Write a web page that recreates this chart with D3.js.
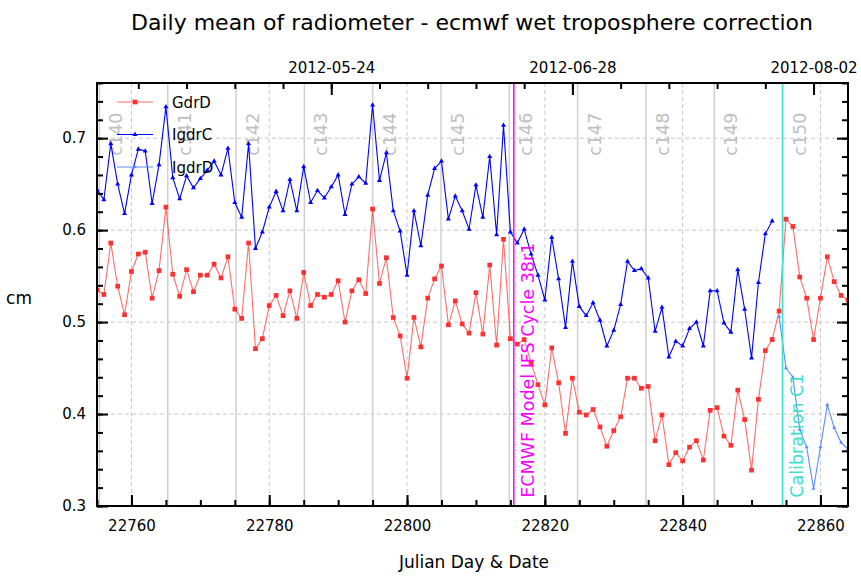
<!DOCTYPE html>
<html>
<head>
<meta charset="utf-8">
<script src="https://cdn.jsdelivr.net/npm/d3@7"></script>
<style>
  body { margin: 0; background: #fff; }
  text { font-family: "DejaVu Sans", sans-serif; }
</style>
</head>
<body>
<svg class="chart"></svg>
<script>
// Data (julian day since 1950-01-01, values in cm)
const gdrdStart = 22755;
const gdrdValues = [
  0.535, 0.530, 0.586, 0.539, 0.508, 0.555, 0.574, 0.576, 0.526, 0.556,
  0.625, 0.552, 0.528, 0.557, 0.533, 0.551, 0.551, 0.563, 0.548, 0.571,
  0.514, 0.504, 0.586, 0.471, 0.482, 0.518, 0.529, 0.507, 0.534, 0.504,
  0.554, 0.518, 0.530, 0.527, 0.530, 0.545, 0.500, 0.534, 0.546, 0.531,
  0.623, 0.542, 0.570, 0.505, 0.485, 0.439, 0.505, 0.473, 0.526, 0.547,
  0.561, 0.497, 0.523, 0.498, 0.488, 0.532, 0.487, 0.562, 0.475, 0.590,
  0.482, 0.476, 0.481, 0.456, 0.432, 0.410, 0.472, 0.434, 0.379, 0.439,
  0.402, 0.399, 0.405, 0.386, 0.365, 0.382, 0.397, 0.439, 0.439, 0.428,
  0.430, 0.371, 0.399, 0.345, 0.358, 0.349, 0.364, 0.371, 0.350, 0.404,
  0.407, 0.376, 0.366, 0.426, 0.394, 0.339, 0.416, 0.469, 0.481, 0.512,
  0.612, 0.604, 0.549, 0.526, 0.481, 0.526, 0.571, 0.544, 0.529, 0.524
];

const igdrcStart = 22755;
const igdrcValues = [
  0.644, 0.633, 0.694, 0.650, 0.618, 0.660, 0.688, 0.686, 0.629, 0.671,
  0.734, 0.657, 0.634, 0.659, 0.646, 0.656, 0.665, 0.675, 0.660, 0.689,
  0.630, 0.614, 0.694, 0.580, 0.598, 0.625, 0.642, 0.621, 0.655, 0.621,
  0.669, 0.630, 0.643, 0.635, 0.647, 0.660, 0.617, 0.650, 0.658, 0.651,
  0.736, 0.654, 0.684, 0.621, 0.599, 0.551, 0.621, 0.583, 0.638, 0.667,
  0.675, 0.612, 0.637, 0.621, 0.601, 0.649, 0.614, 0.680, 0.595, 0.714,
  0.598, 0.586, 0.601, 0.574, 0.551, 0.524, 0.592, 0.547, 0.494, 0.566,
  0.517, 0.507, 0.521, 0.502, 0.474, 0.491, 0.519, 0.566, 0.556, 0.558,
  0.548, 0.490, 0.516, 0.462, 0.479, 0.474, 0.493, 0.500, 0.474, 0.534,
  0.534, 0.499, 0.489, 0.557, 0.514, 0.461, 0.543, 0.596, 0.610
];

const igdrdStart = 22854;
const igdrdValues = [0.506, 0.450, 0.440, 0.383, 0.364, 0.319, 0.364, 0.410, 0.385, 0.369, 0.362];

// Jason cycles: start day of each cycle
const cycleNames = ['c140', 'c141', 'c142', 'c143', 'c144', 'c145', 'c146', 'c147', 'c148', 'c149', 'c150'];
const cycleStarts = [22755.35, 22765.27, 22775.18, 22785.10, 22795.01, 22804.93, 22814.85, 22824.76, 22834.68, 22844.59, 22854.51];

// Events
const eventDays = [22815.5, 22854.5];
const eventLabels = ['ECMWF Model IFS Cycle 38r1', 'Calibration C1'];
const eventColors = ['#ff00ff', '#40e0d0'];

// Axes ticks
const dayTicks = [22760, 22780, 22800, 22820, 22840, 22860];
const dateTickDays = [22789, 22824, 22859];
const dateTickLabels = ['2012-05-24', '2012-06-28', '2012-08-02'];
const yTicks = [0.3, 0.4, 0.5, 0.6, 0.7];

const toPoints = (start, vals) => vals.map((v, i) => ({ day: start + i, value: v }));
const gdrd = toPoints(gdrdStart, gdrdValues);
const igdrc = toPoints(igdrcStart, igdrcValues);
const igdrd = toPoints(igdrdStart, igdrdValues);

// Set up SVG container
const svgWidth = 861;
const svgHeight = 576;
const margin = { top: 83, right: 13, bottom: 70, left: 97 };
const chartWidth = svgWidth - margin.left - margin.right;
const chartHeight = svgHeight - margin.top - margin.bottom;

const svg = d3.select('.chart')
  .attr('width', svgWidth)
  .attr('height', svgHeight);

const chart = svg.append('g')
  .attr('transform', `translate(${margin.left},${margin.top})`);

const xScale = d3.scaleLinear().domain([22755, 22864]).range([0, chartWidth]);
const yScale = d3.scaleLinear().domain([0.3, 0.76]).range([chartHeight, 0]);

chart.append('clipPath').attr('id', 'clip')
  .append('rect').attr('width', chartWidth).attr('height', chartHeight);

// Dashed grid
chart.selectAll('line.hgrid')
  .data(yTicks)
  .enter().append('line')
  .attr('x1', 0).attr('x2', chartWidth)
  .attr('y1', d => yScale(d)).attr('y2', d => yScale(d))
  .attr('stroke', '#c8c8c8').attr('stroke-dasharray', '4 3');

chart.selectAll('line.vgrid')
  .data(dayTicks)
  .enter().append('line')
  .attr('x1', d => xScale(d)).attr('x2', d => xScale(d))
  .attr('y1', 0).attr('y2', chartHeight)
  .attr('stroke', '#c8c8c8').attr('stroke-dasharray', '4 3');

// Cycle lines and labels
const cycles = cycleNames.map((name, i) => ({ name, day: cycleStarts[i] }));
chart.selectAll('line.cycle')
  .data(cycles)
  .enter().append('line')
  .attr('x1', d => xScale(d.day)).attr('x2', d => xScale(d.day))
  .attr('y1', 0).attr('y2', chartHeight)
  .attr('stroke', '#d0d0d0').attr('stroke-width', 1.5);

chart.selectAll('text.cycle')
  .data(cycles)
  .enter().append('text')
  .attr('transform', d => `translate(${xScale(d.day) + 23},${yScale(0.681)}) rotate(-90)`)
  .attr('fill', '#c0c0c0')
  .attr('font-size', '17.5px')
  .text(d => d.name);

// Series
const line = d3.line().x(d => xScale(d.day)).y(d => yScale(d.value));
const plot = chart.append('g').attr('clip-path', 'url(#clip)');

const series = [
  { name: 'GdrD', data: gdrd, color: '#ff3030', opacity: 0.7, symbol: d3.symbolSquare, size: 22 },
  { name: 'IgdrC', data: igdrc, color: '#0000ff', opacity: 1, symbol: d3.symbolTriangle, size: 11 },
  { name: 'IgdrD', data: igdrd, color: '#5b8cff', opacity: 1, symbol: d3.symbolTriangle, size: 7 }
];

series.forEach(s => {
  plot.append('path')
    .datum(s.data)
    .attr('fill', 'none')
    .attr('stroke', s.color)
    .attr('stroke-opacity', s.opacity)
    .attr('stroke-width', 1.1)
    .attr('d', line);
  plot.selectAll(null)
    .data(s.data)
    .enter().append('path')
    .attr('transform', d => `translate(${xScale(d.day)},${yScale(d.value)})`)
    .attr('d', d3.symbol(s.symbol, s.size))
    .attr('fill', s.color);
});

// Event lines
const events = eventLabels.map((label, i) => ({ label, day: eventDays[i], color: eventColors[i] }));
chart.selectAll('line.event')
  .data(events)
  .enter().append('line')
  .attr('x1', d => xScale(d.day)).attr('x2', d => xScale(d.day))
  .attr('y1', 0).attr('y2', chartHeight)
  .attr('stroke', d => d.color).attr('stroke-width', 1.5);

chart.selectAll('text.event')
  .data(events)
  .enter().append('text')
  .attr('transform', d => `translate(${xScale(d.day) + 20},${yScale(0.309)}) rotate(-90)`)
  .attr('fill', d => d.color)
  .attr('font-size', '17.5px')
  .text(d => d.label);

// Legend
const legend = chart.append('g').attr('transform', 'translate(20,19)');
series.forEach((s, i) => {
  const g = legend.append('g').attr('transform', `translate(0,${i * 32.5})`);
  g.append('line')
    .attr('x1', 0).attr('x2', 36)
    .attr('stroke', s.color).attr('stroke-opacity', s.opacity).attr('stroke-width', 1.2);
  g.append('path')
    .attr('transform', 'translate(18,0)')
    .attr('d', d3.symbol(s.symbol, s.size))
    .attr('fill', s.color);
  g.append('text')
    .attr('x', 55).attr('y', 5.5)
    .attr('font-size', '15px')
    .attr('fill', 'black')
    .text(s.name);
});

// Axes
function styleAxis(g) {
  g.select('.domain').remove();
  g.selectAll('line').attr('stroke', 'black').attr('stroke-width', 2);
  g.selectAll('text').attr('font-size', '15px').attr('fill', 'black')
    .attr('font-family', '"DejaVu Sans", sans-serif');
}

const xMinor = d3.range(22755, 22865, 5);
const weekTicks = d3.range(22761, 22865, 7);
const yMinor = d3.range(0.3, 0.761, 0.02);

chart.append('g').attr('transform', `translate(0,${chartHeight})`)
  .call(d3.axisBottom(xScale).tickValues(xMinor).tickSize(-6).tickFormat(''))
  .call(styleAxis);
chart.append('g').attr('transform', `translate(0,${chartHeight})`)
  .call(d3.axisBottom(xScale).tickValues(dayTicks).tickSize(-11).tickPadding(14).tickFormat(d3.format('d')))
  .call(styleAxis);

chart.append('g')
  .call(d3.axisTop(xScale).tickValues(weekTicks).tickSize(-6).tickFormat(''))
  .call(styleAxis);
chart.append('g')
  .call(d3.axisTop(xScale).tickValues(dateTickDays).tickSize(-12).tickPadding(10)
    .tickFormat((d, i) => dateTickLabels[i]))
  .call(styleAxis);

chart.append('g')
  .call(d3.axisLeft(yScale).tickValues(yMinor).tickSize(-6).tickFormat(''))
  .call(styleAxis);
chart.append('g')
  .call(d3.axisLeft(yScale).tickValues(yTicks).tickSize(-11).tickPadding(11).tickFormat(d3.format('.1f')))
  .call(styleAxis);

chart.append('g').attr('transform', `translate(${chartWidth},0)`)
  .call(d3.axisRight(yScale).tickValues(yMinor).tickSize(-6).tickFormat(''))
  .call(styleAxis);
chart.append('g').attr('transform', `translate(${chartWidth},0)`)
  .call(d3.axisRight(yScale).tickValues(yTicks).tickSize(-11).tickFormat(''))
  .call(styleAxis);

// Frame
chart.append('rect')
  .attr('width', chartWidth).attr('height', chartHeight)
  .attr('fill', 'none').attr('stroke', 'black').attr('stroke-width', 2);

// Titles
svg.append('text')
  .attr('x', 472).attr('y', 30)
  .attr('text-anchor', 'middle')
  .attr('font-size', '22px')
  .text('Daily mean of radiometer - ecmwf wet troposphere correction');

svg.append('text')
  .attr('x', 474).attr('y', 568)
  .attr('text-anchor', 'middle')
  .attr('font-size', '17px')
  .text('Julian Day & Date');

svg.append('text')
  .attr('x', 19).attr('y', 304)
  .attr('text-anchor', 'middle')
  .attr('font-size', '17px')
  .text('cm');
</script>
</body>
</html>
